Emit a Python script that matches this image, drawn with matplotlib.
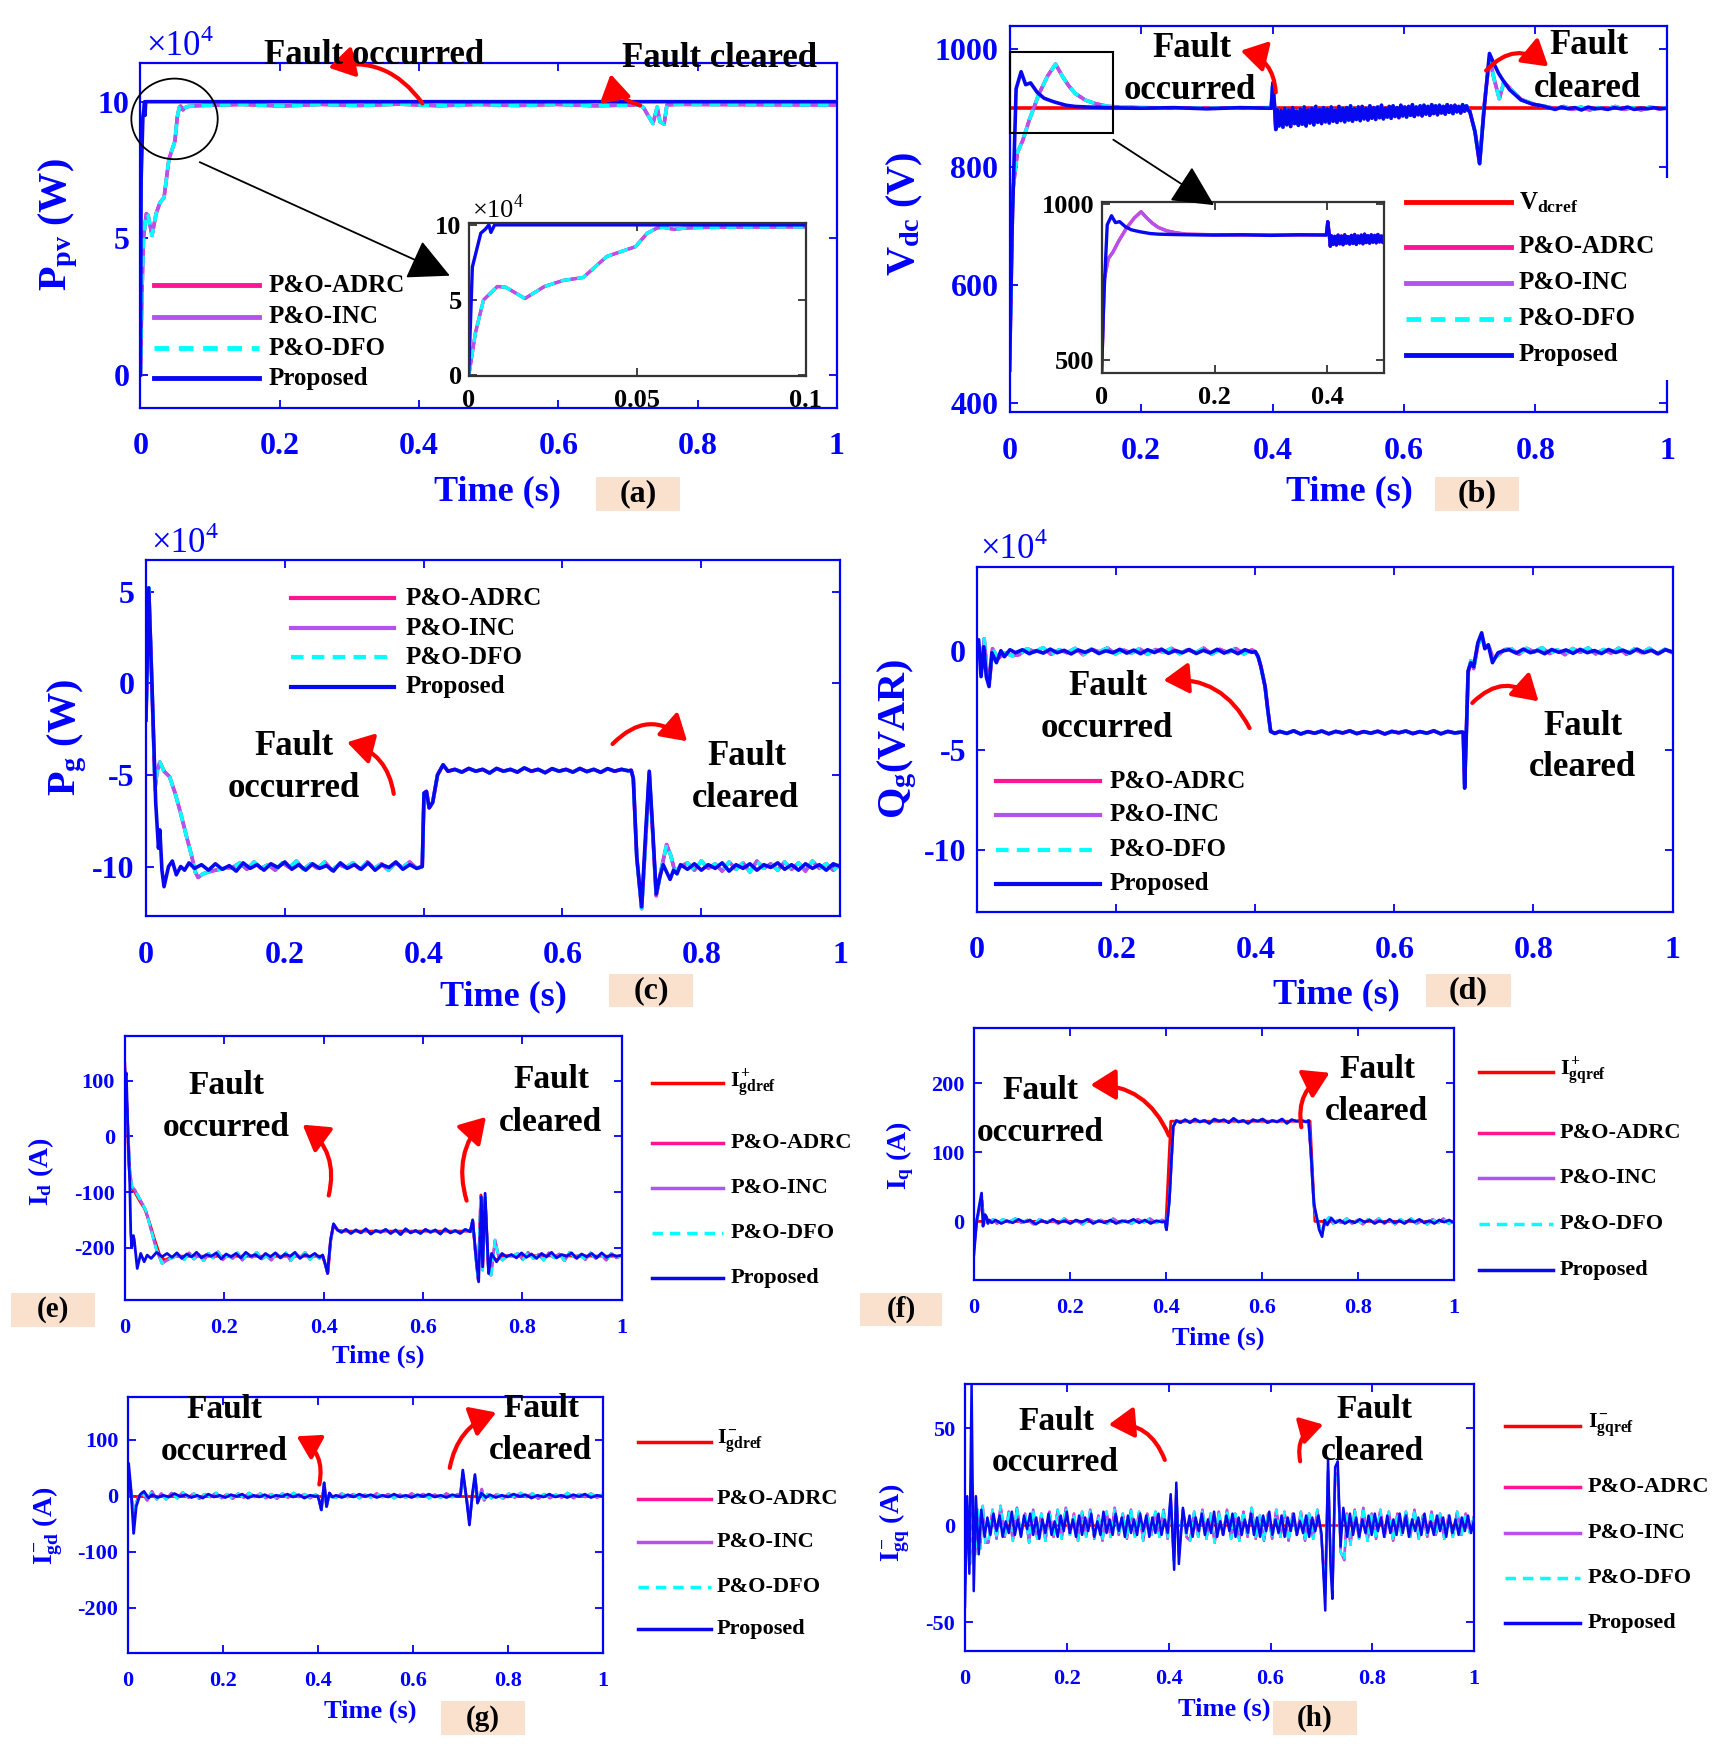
import numpy as np
import matplotlib
matplotlib.use('Agg')
import matplotlib.pyplot as plt
from matplotlib.patches import FancyArrowPatch, Ellipse, Rectangle
from matplotlib.lines import Line2D

plt.rcParams['font.family'] = ['Liberation Serif', 'DejaVu Serif']
plt.rcParams['font.weight'] = 'bold'
plt.rcParams['mathtext.fontset'] = 'custom'
plt.rcParams['mathtext.rm'] = 'Liberation Serif:bold'
plt.rcParams['mathtext.it'] = 'Liberation Serif:bold'
plt.rcParams['mathtext.bf'] = 'Liberation Serif:bold'

# ======================= DATA =======================
time_ticks = [0, 0.2, 0.4, 0.6, 0.8, 1.0]
time_tick_labels = ['0', '0.2', '0.4', '0.6', '0.8', '1']
methods = ['P&O-ADRC', 'P&O-INC', 'P&O-DFO', 'Proposed']

# (a) PV power, x1e4 W
ppv_prop = [(0, 0), (0.0011, 7.2), (0.0036, 9.45), (0.0049, 9.7), (0.006, 10.0),
            (0.0066, 9.5), (0.0077, 10.0), (1.0, 10.0)]
ppv_cmp_start = [(0, 0), (0.0003, 0.33), (0.002, 2.8), (0.0044, 5.0), (0.0085, 5.9), (0.011, 5.85),
                 (0.0167, 5.1), (0.0225, 5.9), (0.028, 6.3), (0.034, 6.5), (0.041, 7.9), (0.0495, 8.55),
                 (0.053, 9.45), (0.056, 9.8), (0.0577, 9.84), (0.061, 9.7), (0.064, 9.78), (0.0675, 9.82),
                 (0.08, 9.85)]
ppv_cmp_ripple = [9.86, 9.9, 9.84, 9.9, 9.86, 9.91, 9.85, 9.9, 9.86, 9.9, 9.85, 9.88]
ppv_cmp_clear = [(0.715, 9.88), (0.722, 9.8), (0.73, 9.45), (0.736, 9.2), (0.742, 9.8), (0.746, 9.27),
                 (0.752, 9.18), (0.756, 9.88), (0.77, 9.9), (1.0, 9.88)]

# (b) DC-link voltage, V
vdc_ref = [(0, 900), (1.0, 900)]
vdc_prop_start = [(0, 455), (0.004, 700), (0.01, 933), (0.0176, 962), (0.0245, 940), (0.032, 943),
                  (0.042, 927), (0.0525, 917), (0.062, 913), (0.07, 910), (0.086, 905), (0.1, 903),
                  (0.12, 902), (0.15, 901), (0.2, 900), (0.25, 901), (0.3, 899), (0.35, 901),
                  (0.398, 900), (0.4005, 943), (0.403, 905), (0.405, 864)]
vdc_band = [898, 870, 896, 868, 900, 872, 897, 869, 901, 874, 895, 871, 899, 873, 902, 870, 897, 875, 900, 872,
            903, 876, 898, 874, 901, 877, 899, 875, 902, 878, 897, 876, 903, 879, 900, 877, 901, 880, 904, 878,
            899, 881, 902, 879, 903, 882, 900, 880, 904, 883, 901, 881, 902, 884, 905, 882, 900, 885, 903, 883,
            904, 886, 901, 884, 905, 887, 902, 885, 903, 888, 906, 886, 902, 889, 904, 887, 905, 890, 903, 888,
            906, 891, 904, 889, 905, 892, 903, 890, 906, 893, 904, 891, 905, 894, 903, 892, 906, 895, 904, 896]
vdc_prop_clear = [(0.7, 895), (0.708, 860), (0.715, 806), (0.722, 900), (0.73, 993), (0.737, 975),
                  (0.744, 959), (0.752, 945), (0.761, 931), (0.778, 914), (0.795, 907), (0.81, 904)]
vdc_prop_tail = [901, 898, 902, 899, 901, 897, 902, 899, 900, 898, 901, 899, 902, 898, 900, 899, 901, 899, 900]
vdc_cmp_start = [(0, 455), (0.005, 760), (0.012, 825), (0.02, 845), (0.03, 880), (0.045, 925),
                 (0.058, 955), (0.07, 975), (0.08, 955), (0.09, 938), (0.1, 925), (0.115, 914),
                 (0.13, 908), (0.15, 903), (0.2, 901), (0.3, 900), (0.398, 901), (0.4005, 943),
                 (0.403, 905), (0.405, 864)]
vdc_cmp_clear = [(0.7, 895), (0.708, 860), (0.715, 806), (0.722, 905), (0.73, 985), (0.737, 950),
                 (0.745, 916), (0.752, 945), (0.76, 935), (0.778, 915), (0.8, 906), (0.82, 902)]
vdc_cmp_tail = [899, 903, 898, 902, 897, 901, 899, 903, 898, 901, 897, 902, 899, 901]

# (c) grid active power, x1e4 W
pg_prop_start = [(0, -2.0), (0.004, 5.2), (0.0087, -0.2), (0.014, -6.5), (0.018, -9.0), (0.02, -8.0),
                 (0.023, -10.2), (0.026, -11.1), (0.0325, -10.0), (0.038, -9.7), (0.0437, -10.45),
                 (0.05, -10.0), (0.0556, -10.2), (0.062, -9.8), (0.07, -10.1)]
pg_prop_n1 = [-9.9, -10.2, -9.85, -10.15, -9.95, -10.25, -9.8, -10.1, -9.9, -10.2, -9.85, -10.05, -9.75,
              -10.15, -9.9, -10.2, -9.85, -10.1, -9.95, -10.25, -9.8, -10.1, -9.9, -10.15, -9.8, -10.2,
              -9.9, -10.05, -9.75, -10.15, -9.9, -10.1]
pg_fault = [(0.398, -10.0), (0.4005, -6.0), (0.404, -5.9), (0.408, -6.8), (0.413, -6.5), (0.42, -5.0),
            (0.428, -4.45), (0.435, -4.8)]
pg_n2 = [-4.7, -4.85, -4.65, -4.8, -4.7, -4.9, -4.65, -4.8, -4.7, -4.85, -4.62, -4.8, -4.7, -4.88, -4.66,
         -4.8, -4.7, -4.85, -4.65, -4.82, -4.7, -4.86, -4.66, -4.8, -4.7, -4.78]
pg_prop_clear = [(0.699, -4.75), (0.702, -5.2), (0.707, -9.5), (0.714, -12.2), (0.72, -8.0), (0.725, -4.8),
                 (0.73, -8.0), (0.735, -11.5), (0.74, -10.6), (0.745, -9.9), (0.75, -10.3), (0.755, -10.7),
                 (0.76, -10.2), (0.765, -10.4), (0.77, -9.9)]
pg_prop_n3 = [-10.15, -9.85, -10.2, -9.9, -10.1, -9.8, -10.25, -9.9, -10.1, -9.85, -10.2, -9.9, -10.05,
              -9.8, -10.15, -9.9, -10.2, -9.85, -10.1, -9.9, -10.2, -9.85, -10.0]
pg_cmp_start = [(0, -2.0), (0.004, 5.2), (0.0087, -0.2), (0.013, -5.8), (0.016, -4.8), (0.02, -4.3),
                (0.026, -4.8), (0.034, -5.1), (0.042, -6.0), (0.05, -7.1), (0.058, -8.3), (0.066, -9.45),
                (0.071, -10.3), (0.075, -10.6), (0.082, -10.4), (0.09, -10.3), (0.1, -10.2), (0.113, -10.1)]
pg_cmp_n1 = [-10.05, -9.8, -10.15, -9.75, -10.1, -9.9, -10.2, -9.8, -10.05, -9.7, -10.15, -9.85, -10.1,
             -9.75, -10.2, -9.9, -10.05, -9.8, -10.15, -9.75, -10.1, -9.85, -10.2, -9.8, -10.05, -9.75, -10.1]
pg_cmp_clear = [(0.699, -4.75), (0.702, -5.2), (0.707, -9.5), (0.714, -12.3), (0.72, -8.5), (0.725, -4.9),
                (0.73, -8.2), (0.735, -11.6), (0.742, -10.2), (0.75, -8.8), (0.756, -9.4), (0.762, -10.3),
                (0.77, -10.0)]
pg_cmp_n3 = [-9.8, -10.2, -9.7, -10.1, -9.85, -10.25, -9.75, -10.15, -9.8, -10.3, -9.7, -10.1, -9.85,
             -10.2, -9.75, -10.15, -9.8, -10.25, -9.7, -10.1, -9.85, -10.2, -9.9]

# (d) grid reactive power, x1e4 VAR
qg_prop_start = [(0, 0.5), (0.002, 0.55), (0.0055, -1.3), (0.0095, 0.2), (0.013, -1.3), (0.017, -1.8),
                 (0.021, -0.1), (0.0276, -0.6), (0.034, 0.0), (0.039, -0.3), (0.047, 0.05)]
qg_prop_n1 = [-0.1, 0.05, -0.15, 0.0, -0.12, 0.08, -0.1, 0.02, -0.16, 0.04, -0.08, 0.06, -0.14, 0.0, -0.1,
              0.07, -0.12, 0.03, -0.15, 0.05, -0.09, 0.08, -0.13, 0.01, -0.1, 0.06, -0.14, 0.02, -0.11,
              0.07, -0.12, 0.03, -0.15, 0.05, -0.08]
qg_fault = [(0.4, -0.05), (0.404, -0.3), (0.408, -0.8), (0.414, -1.8), (0.418, -3.0), (0.422, -4.05),
            (0.428, -4.15)]
qg_n2 = [-4.05, -4.15, -4.02, -4.18, -4.06, -4.14, -4.03, -4.17, -4.05, -4.13, -4.02, -4.16, -4.06, -4.14,
         -4.04, -4.18, -4.05, -4.12, -4.03, -4.16, -4.06, -4.14, -4.02, -4.17, -4.05, -4.13, -4.08]
qg_prop_clear = [(0.699, -4.1), (0.701, -6.9), (0.704, -3.5), (0.706, -1.0), (0.71, -0.6), (0.714, -0.8),
                 (0.72, 0.4), (0.7255, 0.9), (0.73, 0.1), (0.735, 0.3), (0.741, -0.6), (0.749, -0.1),
                 (0.757, 0.0)]
qg_prop_n3 = [0.05, -0.12, 0.08, -0.1, 0.02, -0.15, 0.06, -0.08, 0.04, -0.13, 0.07, -0.1, 0.01, -0.14,
              0.06, -0.09, 0.03, -0.12, 0.08, -0.1, 0.02, -0.15, 0.05, -0.06]
qg_cmp_start = [(0, 0.5), (0.003, 0.2), (0.007, -0.8), (0.01, 0.6), (0.014, -1.0), (0.018, -1.4),
                (0.022, 0.1), (0.03, -0.4), (0.04, -0.1), (0.05, -0.25)]
qg_cmp_n1 = [-0.2, 0.1, -0.05, 0.15, -0.18, 0.05, -0.1, 0.12, -0.2, 0.08, -0.06, 0.14, -0.16, 0.04, -0.12,
             0.1, -0.18, 0.06, -0.08, 0.12, -0.15, 0.05, -0.1, 0.13, -0.17, 0.07, -0.09, 0.11, -0.16, 0.04]
qg_cmp_clear = [(0.699, -4.1), (0.701, -6.7), (0.704, -3.4), (0.706, -1.1), (0.71, -0.5), (0.714, -0.9),
                (0.72, 0.3), (0.726, 0.7), (0.73, 0.2), (0.736, 0.2), (0.742, -0.4), (0.75, -0.2),
                (0.758, 0.05)]
qg_cmp_n3 = [0.1, -0.18, 0.12, -0.06, 0.15, -0.14, 0.05, -0.2, 0.11, -0.08, 0.14, -0.16, 0.06, -0.12,
             0.13, -0.18, 0.08, -0.1, 0.12, -0.15, 0.07, -0.1]

# (e) d-axis current, A
id_ref = [(0, 132), (0.004, 60), (0.008, -50), (0.012, -92), (0.02, -100), (0.03, -116), (0.04, -130),
          (0.05, -155), (0.06, -185), (0.07, -212), (0.08, -222), (0.09, -218), (0.1, -215), (0.398, -215),
          (0.404, -232), (0.409, -244), (0.414, -190), (0.42, -160), (0.428, -168), (0.44, -170),
          (0.698, -170), (0.7, -152), (0.706, -212), (0.711, -255), (0.7165, -105), (0.72, -238),
          (0.725, -110), (0.732, -242), (0.738, -215), (0.748, -222), (0.76, -214), (1.0, -215)]
id_prop_start = [(0, 100), (0.003, 114), (0.0066, 0), (0.01, -84), (0.012, -174), (0.014, -198),
                 (0.017, -178), (0.019, -185), (0.025, -237), (0.032, -210), (0.039, -225), (0.045, -213),
                 (0.053, -219), (0.064, -208), (0.075, -216)]
id_prop_n1 = [-210, -217, -209, -219, -211, -216, -208, -218, -212, -215, -209, -220, -211, -216, -210,
              -218, -208, -215, -212, -219, -210, -216, -209, -218, -211, -215, -208, -219, -212, -216,
              -210, -217]
id_fault = [(0.398, -213), (0.403, -228), (0.408, -246), (0.414, -186), (0.42, -157), (0.428, -168),
            (0.436, -172)]
id_n2 = [-167, -174, -168, -173, -166, -175, -169, -172, -167, -174, -168, -176, -166, -173, -169, -174,
         -167, -172, -168, -175, -166, -173, -169, -174, -167, -171]
id_prop_clear = [(0.7, -150), (0.706, -210), (0.712, -261), (0.7175, -108), (0.72, -234), (0.725, -102),
                 (0.732, -246), (0.738, -210), (0.748, -225), (0.759, -210), (0.768, -216)]
id_prop_n3 = [-212, -218, -209, -217, -211, -219, -210, -216, -208, -218, -212, -215, -209, -219, -211,
              -216, -210, -218, -209, -217, -212, -215, -213]
id_cmp_start = [(0, 120), (0.005, 40), (0.01, -60), (0.014, -90), (0.02, -96), (0.031, -114), (0.042, -132),
                (0.053, -168), (0.064, -204), (0.075, -228), (0.085, -222), (0.092, -219), (0.1, -216)]
id_cmp_n1 = [-214, -221, -209, -220, -212, -223, -210, -218, -207, -221, -213, -219, -209, -222, -211,
             -217, -208, -220, -214, -222, -210, -218, -209, -223, -212, -217, -208, -221, -211, -219]
id_cmp_clear = [(0.7, -150), (0.706, -215), (0.711, -258), (0.716, -108), (0.72, -240), (0.725, -110),
                (0.732, -245), (0.737, -249), (0.745, -186), (0.752, -215), (0.76, -222), (0.77, -214)]
id_cmp_n3 = [-215, -210, -221, -208, -219, -212, -222, -209, -218, -211, -223, -208, -217, -213, -221,
             -209, -219, -211, -222, -210, -218, -214]

# (f) q-axis current, A
iq_ref = [(0, 0), (0.4, 0), (0.41, 145), (0.7, 145), (0.71, 0), (1.0, 0)]
iq_prop_start = [(0, -48), (0.0057, 0), (0.011, 22), (0.016, 41), (0.019, -7), (0.023, 10), (0.026, 7),
                 (0.029, -3), (0.032, 2), (0.0375, -2)]
iq_prop_n1 = [2, -3, 1, -2, 3, -1, 2, -4, 1, -2, 3, -2, 1, -3, 2, -1, 3, -3, 1, -2, 2, -3, 1, -1, 3, -2, 2,
              -3, 1, -1]
iq_fault = [(0.398, 0), (0.401, -12), (0.407, 31), (0.415, 137), (0.4216, 146), (0.43, 143)]
iq_n2 = [147, 143, 148, 144, 146, 142, 148, 145, 147, 143, 149, 144, 146, 142, 147, 145, 148, 143, 146,
         144, 148, 142, 147, 145, 146, 144]
iq_prop_clear = [(0.697, 146), (0.702, 98), (0.708, 26), (0.7136, 7), (0.719, -12), (0.725, -22),
                 (0.73, 2), (0.736, -5), (0.744, 5), (0.753, -2)]
iq_prop_n3 = [2, -3, 1, -2, 3, -1, 2, -3, 1, -2, 3, -2, 1, -3, 2, -1, 3, -2, 1, -3, 2, -1, 2, -2]
iq_cmp_start = [(0, -40), (0.006, 2), (0.012, 18), (0.017, 30), (0.021, -3), (0.026, 6), (0.032, -2),
                (0.04, 3)]
iq_cmp_n1 = [-3, 3, -1, 4, -2, 2, -4, 3, -1, 2, -3, 4, -2, 1, -4, 3, -1, 2, -3, 4, -2, 1, -3, 3, -1, 4,
             -2, 2]
iq_cmp_clear = [(0.697, 146), (0.702, 95), (0.708, 22), (0.714, 4), (0.72, -8), (0.726, -14), (0.732, 0),
                (0.74, 6), (0.748, -3), (0.756, 1)]
iq_cmp_n3 = [-2, 4, -3, 2, -4, 3, -1, 4, -3, 2, -4, 3, -2, 4, -3, 1, -4, 3, -2, 4, -3, 1]

# (g) negative-sequence d current, A
igd_ref = [(0, 0), (1.0, 0)]
igd_prop_start = [(0, 0), (0.001, 58), (0.006, 11), (0.0116, -67), (0.017, -19), (0.025, 2),
                  (0.0335, 8), (0.043, -4)]
igd_prop_n1 = [2, -3, 1, -2, 4, -1, 2, -3, 1, -4, 3, -2, 1, -3, 2, -1, 3, -4, 1, -2, 2, -3, 1, -1, 3, -2,
               2, -4, 1, -1]
igd_fault = [(0.399, 0), (0.402, -7), (0.407, -25), (0.413, 23), (0.418, -19), (0.424, 5), (0.43, -2)]
igd_prop_n2 = [1, -3, 2, -2, 3, -1, 2, -3, 1, -2, 3, -2, 1, -3, 2, -1, 3, -2, 1, -3, 2, -1]
igd_prop_clear = [(0.7, 0), (0.705, 46), (0.713, -7), (0.719, -52), (0.725, 2), (0.7306, 38),
                  (0.736, -13), (0.744, 5), (0.754, -3)]
igd_prop_n3 = [2, -3, 1, -2, 3, -1, 2, -4, 1, -2, 3, -2, 1, -3, 2, -1, 3, -3, 1, -1]
igd_cmp_start = [(0, 0), (0.003, 30), (0.008, -10), (0.012, -30), (0.02, -5), (0.03, 6), (0.04, -8),
                 (0.05, 8), (0.06, -6), (0.07, 4)]
igd_cmp_n1 = [-6, 5, -4, 6, -3, 4, -5, 3, -2, 5, -4, 3, -5, 4, -3, 5, -2, 4, -4, 3, -5, 4, -3, 5, -2, 3,
              -4, 2]
igd_cmp_n2 = [-3, 4, -2, 3, -4, 2, -3, 4, -2, 3, -4, 2, -3, 4, -2, 3, -4, 2, -3, 4, -2, 3]
igd_cmp_clear = [(0.7, 0), (0.705, 40), (0.713, -5), (0.719, -45), (0.725, 0), (0.731, 32), (0.737, -10),
                 (0.745, 12), (0.75, -8), (0.757, 3)]
igd_cmp_n3 = [-4, 3, -5, 4, -3, 5, -2, 4, -5, 3, -4, 2, -3, 5, -4, 3, -2, 4, -3, 2]

# (h) negative-sequence q current, A
igq_ref = [(0, 0), (1.0, 0)]
igq_prop_start = [(0, -42), (0.0043, 15), (0.0086, -25), (0.013, 73), (0.0172, -34), (0.0215, 15),
                  (0.027, -15), (0.032, 8), (0.0387, -6)]
igq_prop_n1 = [4, -5, 6, -3, 5, -6, 2, -4, 7, -5, 3, -6, 5, -2, 6, -5, 4, -7, 3, -4, 6, -5, 2, -6, 5, -3,
               7, -4, 3, -6, 5, -5, 4, -3, 6, -6, 2, -5, 7, -4, 3, -5, 6, -3, 4, -6, 5, -4, 3, -5, 6, -3,
               5, -6, 4, -4, 6, -5, 3, -4]
igq_prop_fault = [(0.404, 16), (0.4108, -23), (0.415, 22), (0.42, -20), (0.428, 9), (0.435, -4)]
igq_prop_n2 = [5, -6, 4, -3, 6, -5, 3, -4, 7, -6, 2, -5, 5, -3, 6, -6, 4, -5, 3, -4, 6, -5, 4, -6, 5, -3,
               7, -5, 3, -4, 5, -6, 4, -3, 6, -5, 2, -4, 5, -6, 4, -3, 5, -4]
igq_prop_clear = [(0.7075, -44), (0.713, 34), (0.718, -22), (0.7215, -38), (0.727, 30), (0.732, 33),
                  (0.7376, -11), (0.743, 9), (0.7505, -6)]
igq_prop_n3 = [6, -5, 4, -6, 3, -4, 5, -5, 6, -3, 4, -6, 5, -4, 3, -5, 6, -4, 5, -6, 3, -3, 4, -5, 6, -4,
               2, -5, 5, -3, 4, -6, 5, -4, 3, -5, 4, -3, 5, -4, 3]
igq_cmp_start = [(0, -30), (0.005, 10), (0.01, -20), (0.015, 20), (0.02, -15), (0.025, 8), (0.03, -12),
                 (0.035, 10), (0.04, -9)]
igq_cmp_n1 = [-9, 8, -7, 10, -6, 7, -8, 9, -5, 6, -9, 8, -7, 6, -8, 7, -6, 8, -7, 9, -5, 6, -8, 7, -6, 8,
              -7, 5, -8, 7, -6, 9, -5, 6, -7, 8, -6, 7, -8, 6, -5, 7, -6, 8, -7]
igq_cmp_fault = [(0.404, 14), (0.41, -18), (0.415, 18), (0.42, -15), (0.428, 8), (0.435, -6)]
igq_cmp_n2 = [-8, 7, -6, 8, -7, 6, -9, 7, -5, 8, -7, 6, -8, 7, -6, 9, -7, 5, -8, 6, -7, 8, -6, 7, -8, 6,
              -5, 7, -8, 6, -7, 8, -6]
igq_cmp_clear = [(0.707, -35), (0.713, 28), (0.718, -18), (0.722, -30), (0.727, 25), (0.732, 27),
                 (0.738, -14), (0.745, -18), (0.75, 6)]
igq_cmp_n3 = [-10, 8, -7, 9, -8, 6, -7, 8, -6, 7, -8, 6, -5, 7, -6, 8, -7, 5, -6, 7, -5, 6, -7, 5, -6, 7,
              -5, 6, -4, 5]


# ======================= helpers =======================
def pts(p):
    a = np.array(p, dtype=float)
    return a[:, 0], a[:, 1]


def seg(t0, t1, vals):
    return np.linspace(t0, t1, len(vals)), np.array(vals, dtype=float)


def cat(*parts):
    return np.concatenate([p[0] for p in parts]), np.concatenate([p[1] for p in parts])


BLUE = '#0000FF'
PROP = '#0808F0'
PINK = '#FF1493'
PURPLE = '#B452EE'
CYAN = '#00FFFF'
RED = '#FF0000'
PEACH = '#FAE1CD'

W, H = 1540.0, 1568.0
fig = plt.figure(figsize=(17.16, 17.47), dpi=100)


def fx(x):
    return x / W


def fy(y):
    return 1 - y / H


def add_ax(l, r, t, b):
    return fig.add_axes([fx(l), fy(b), (r - l) / W, (b - t) / H])


def style(ax, ylim, yticks, fs, xpad, ypad, xlim=(0, 1), xt=time_ticks, xtl=time_tick_labels,
          color=BLUE, spine_color=BLUE):
    ax.set_xlim(*xlim)
    ax.set_ylim(*ylim)
    ax.set_xticks(xt)
    ax.set_xticklabels(xtl)
    ax.set_yticks(yticks)
    ax.set_yticklabels([str(v) for v in yticks])
    ax.tick_params(direction='in', top=True, right=True, color=spine_color, labelcolor=color,
                   labelsize=fs, length=6, width=1.3)
    ax.tick_params(axis='x', pad=xpad)
    ax.tick_params(axis='y', pad=ypad)
    for s in ax.spines.values():
        s.set_color(spine_color)
        s.set_linewidth(1.6)
    for lab in ax.get_xticklabels() + ax.get_yticklabels():
        lab.set_fontweight('bold')


def draw(ax, cmp, prop, lw, ref=None, show=('ADRC', 'INC', 'DFO')):
    if ref is not None:
        ax.plot(*ref, color=RED, lw=lw)
    if 'ADRC' in show:
        ax.plot(*cmp, color=PINK, lw=lw)
    if 'INC' in show:
        ax.plot(*cmp, color=PURPLE, lw=lw * 0.9)
    if 'DFO' in show:
        ax.plot(*cmp, color=CYAN, lw=lw, ls=(0, (3, 2)))
    ax.plot(*prop, color=PROP, lw=lw)


def legend(entries, x0, x1, xt, ys, fs, lw):
    for (lab, col, ls), y in zip(entries, ys):
        fig.add_artist(Line2D([fx(x0), fx(x1)], [fy(y), fy(y)], transform=fig.transFigure,
                              color=col, ls=ls, lw=lw, zorder=4))
        fig.text(fx(xt), fy(y), lab, ha='left', va='center', fontsize=fs, fontweight='bold',
                 color='black', zorder=5)


def red_arrow(p0, p1, rad, ms=17):
    fig.add_artist(FancyArrowPatch((fx(p0[0]), fy(p0[1])), (fx(p1[0]), fy(p1[1])),
                                   transform=fig.transFigure, connectionstyle=f'arc3,rad={rad}',
                                   arrowstyle='-|>,head_length=0.9,head_width=0.55', mutation_scale=ms,
                                   color=RED, lw=3, zorder=4))


def black_arrow(p0, p1):
    fig.add_artist(FancyArrowPatch((fx(p0[0]), fy(p0[1])), (fx(p1[0]), fy(p1[1])),
                                   transform=fig.transFigure,
                                   arrowstyle='-|>,head_length=1.3,head_width=0.65', mutation_scale=20,
                                   color='black', lw=1.3, zorder=4))


def ftext(x, y, s, fs, color='black', **kw):
    fig.text(fx(x), fy(y), s, fontsize=fs, color=color, fontweight='bold', zorder=5, **kw)


def times10(x, y, fs, color):
    fig.text(fx(x), fy(y), '×10', fontsize=fs, fontweight='normal', color=color, va='baseline')
    fig.text(fx(x + fs * 1.95), fy(y - fs * 0.5), '4', fontsize=fs * 0.68, fontweight='normal',
             color=color, va='baseline')


def label_box(l, r, t, b, s, fs):
    fig.add_artist(Rectangle((fx(l), fy(b)), (r - l) / W, (b - t) / H, transform=fig.transFigure,
                             facecolor=PEACH, edgecolor='none', zorder=1))
    ftext((l + r) / 2, (t + b) / 2, s, fs, ha='center', va='center')


cmp_entries = [('P&O-ADRC', PINK, '-'), ('P&O-INC', PURPLE, '-'), ('P&O-DFO', CYAN, (0, (3, 2))),
               ('Proposed', PROP, '-')]

# ======================= (a) =======================
ppv_p = pts(ppv_prop)
ppv_c = cat(pts(ppv_cmp_start), seg(0.09, 0.71, ppv_cmp_ripple), pts(ppv_cmp_clear))
ax = add_ax(126, 751, 56.2, 366.4)
draw(ax, ppv_c, ppv_p, 2.6)
style(ax, (-1.22, 11.43), [0, 5, 10], 23, 17, 8)
ax.add_patch(Ellipse((0.049, 9.37), 0.124, 2.95, fill=False, ec='black', lw=1.3, clip_on=False, zorder=5))
axi = add_ax(420.6, 723, 200.5, 337.6)
draw(axi, ppv_c, ppv_p, 2.4)
style(axi, (-0.07, 10.1), [0, 5, 10], 19, 9, 5, xlim=(0, 0.1), xt=[0, 0.05, 0.1],
      xtl=['0', '0.05', '0.1'], color='black', spine_color='#333333')
times10(424, 195, 19, 'black')
black_arrow((177, 144.5), (406, 248.5))
times10(131, 49.4, 25, BLUE)
ftext(52, 202, r'$P_{pv}$ (W)', 29, BLUE, rotation=90, ha='center', va='center')
ftext(446.5, 441, 'Time (s)', 26, BLUE, ha='center', va='center')
label_box(535, 610, 428.4, 458.3, '(a)', 23)
legend(cmp_entries, 138.5, 232.7, 241, [255.8, 284.2, 312.6, 339.5], 18, 3.5)
ftext(335.5, 57.7, 'Fault occurred', 25, ha='center', va='baseline')
ftext(646, 59.8, 'Fault cleared', 25, ha='center', va='baseline')
red_arrow((380.6, 95), (292.4, 61.3), 0.35)
red_arrow((577, 95), (547.6, 64), -0.35)

# ======================= (b) =======================
vdc_p = cat(pts(vdc_prop_start), seg(0.407, 0.698, vdc_band), pts(vdc_prop_clear),
            seg(0.82, 1.0, vdc_prop_tail))
vdc_c = cat(pts(vdc_cmp_start), seg(0.407, 0.698, vdc_band), pts(vdc_cmp_clear),
            seg(0.83, 1.0, vdc_cmp_tail))
vdc_r = pts(vdc_ref)
ax = add_ax(906, 1496, 23.3, 369.5)
draw(ax, vdc_c, vdc_p, 2.6, ref=vdc_r)
style(ax, (384.7, 1039.7), [400, 600, 800, 1000], 23, 18, 8)
ax.add_patch(Rectangle((0, 858), 0.158, 138, fill=False, ec='black', lw=1.5, clip_on=False, zorder=5))
fig.add_artist(Rectangle((fx(1255), fy(341)), (1503 - 1255) / W, (341 - 160) / H,
                         transform=fig.transFigure, facecolor='white', edgecolor='none', zorder=2))
axi = add_ax(988.6, 1242, 181.6, 335)
draw(axi, vdc_c, vdc_p, 2.4, show=('ADRC', 'INC'))
style(axi, (457, 1005), [500, 1000], 19, 9, 5, xlim=(0, 0.5), xt=[0, 0.2, 0.4],
      xtl=['0', '0.2', '0.4'], color='black', spine_color='#333333')
black_arrow((997, 124), (1091.6, 185.5))
ftext(811.7, 192, r'$V_{dc}$ (V)', 29, BLUE, rotation=90, ha='center', va='center')
ftext(1211.4, 441, 'Time (s)', 26, BLUE, ha='center', va='center')
label_box(1288, 1363, 428.4, 458.3, '(b)', 23)
legend([(r'$V_{dcref}$', RED, '-')] + cmp_entries, 1262, 1355.6, 1363,
       [181.6, 221.4, 253.7, 286.3, 318.6], 18, 3.5)
ftext(1069.5, 51.5, 'Fault', 25, ha='center', va='baseline')
ftext(1068, 89, 'occurred', 25, ha='center', va='baseline')
ftext(1425.6, 48.8, 'Fault', 25, ha='center', va='baseline')
ftext(1425, 86.8, 'cleared', 25, ha='center', va='baseline')
red_arrow((1145, 85.3), (1111, 45), 0.4)
red_arrow((1332, 65.2), (1391.4, 61.3), -0.5)

# ======================= (c) =======================
pg_p = cat(pts(pg_prop_start), seg(0.08, 0.39, pg_prop_n1), pts(pg_fault), seg(0.445, 0.695, pg_n2),
           pts(pg_prop_clear), seg(0.78, 1.0, pg_prop_n3))
pg_c = cat(pts(pg_cmp_start), seg(0.125, 0.39, pg_cmp_n1), pts(pg_fault), seg(0.445, 0.695, pg_n2),
           pts(pg_cmp_clear), seg(0.78, 1.0, pg_cmp_n3))
ax = add_ax(131, 754, 503, 822)
draw(ax, pg_c, pg_p, 2.6)
style(ax, (-12.69, 6.7), [-10, -5, 0, 5], 23, 18, 8)
times10(136, 495, 25, BLUE)
ftext(60, 661.7, r'$P_{g}$ (W)', 29, BLUE, rotation=90, ha='center', va='center')
ftext(451.5, 894.5, 'Time (s)', 26, BLUE, ha='center', va='center')
label_box(546.7, 622, 874, 904, '(c)', 23)
legend(cmp_entries, 261, 353.8, 363.7, [537, 564, 590, 616.3], 18, 3.0)
ftext(264, 677.6, 'Fault', 25, ha='center', va='baseline')
ftext(263.5, 715, 'occurred', 25, ha='center', va='baseline')
ftext(670, 686.6, 'Fault', 25, ha='center', va='baseline')
ftext(669, 724, 'cleared', 25, ha='center', va='baseline')
red_arrow((353.7, 715), (309, 665.6), 0.35)
red_arrow((548, 669.6), (618.5, 667), -0.5)

# ======================= (d) =======================
qg_p = cat(pts(qg_prop_start), seg(0.055, 0.395, qg_prop_n1), pts(qg_fault), seg(0.435, 0.697, qg_n2),
           pts(qg_prop_clear), seg(0.765, 1.0, qg_prop_n3))
qg_c = cat(pts(qg_cmp_start), seg(0.06, 0.395, qg_cmp_n1), pts(qg_fault), seg(0.435, 0.697, qg_n2),
           pts(qg_cmp_clear), seg(0.768, 1.0, qg_cmp_n3))
ax = add_ax(877, 1501, 508.6, 819)
draw(ax, qg_c, qg_p, 2.6)
style(ax, (-13.14, 4.22), [-10, -5, 0], 23, 17, 8)
times10(880, 501, 25, BLUE)
ftext(805, 662.6, r'$Q_{g}$(VAR)', 29, BLUE, rotation=90, ha='center', va='center')
ftext(1199, 893, 'Time (s)', 26, BLUE, ha='center', va='center')
label_box(1280, 1355.6, 874, 904, '(d)', 23)
legend(cmp_entries, 893.5, 987, 995.9, [701, 731.4, 762.8, 793.3], 18, 3.0)
ftext(994.7, 623.7, 'Fault', 25, ha='center', va='baseline')
ftext(993.6, 661.7, 'occurred', 25, ha='center', va='baseline')
ftext(1420.7, 659.6, 'Fault', 25, ha='center', va='baseline')
ftext(1420, 696.4, 'cleared', 25, ha='center', va='baseline')
red_arrow((1122.5, 655.7), (1041.7, 610.8), 0.35)
red_arrow((1319.5, 632.7), (1382.6, 631.2), -0.5)

# ======================= (e) =======================
id_p = cat(pts(id_prop_start), seg(0.085, 0.392, id_prop_n1), pts(id_fault), seg(0.445, 0.695, id_n2),
           pts(id_prop_clear), seg(0.778, 1.0, id_prop_n3))
id_c = cat(pts(id_cmp_start), seg(0.11, 0.392, id_cmp_n1), pts(id_fault), seg(0.445, 0.695, id_n2),
           pts(id_cmp_clear), seg(0.78, 1.0, id_cmp_n3))
ax = add_ax(112, 558, 930, 1167)
draw(ax, id_c, id_p, 2.0, ref=pts(id_ref))
style(ax, (-294, 180), [-200, -100, 0, 100], 16, 13, 7)
ftext(36.6, 1051.8, r'$I_{d}$ (A)', 20, BLUE, rotation=90, ha='center', va='center')
ftext(339.3, 1217.6, 'Time (s)', 19, BLUE, ha='center', va='center')
label_box(10, 85, 1160.7, 1190.6, '(e)', 21)
legend([(r'$I^{+}_{gdref}$', RED, '-')] + cmp_entries, 584.8, 649, 655.5,
       [972.2, 1026, 1066.5, 1106.9, 1146.7], 16, 2.5)
ftext(202.8, 981.8, 'Fault', 24, ha='center', va='baseline')
ftext(202.8, 1019.6, 'occurred', 24, ha='center', va='baseline')
ftext(495.2, 976.7, 'Fault', 24, ha='center', va='baseline')
ftext(494.2, 1014.7, 'cleared', 24, ha='center', va='baseline')
red_arrow((294.4, 1075.4), (269.6, 1008), 0.35)
red_arrow((419.5, 1080), (437.8, 1000.7), -0.3)

# ======================= (f) =======================
iq_p = cat(pts(iq_prop_start), seg(0.045, 0.392, iq_prop_n1), pts(iq_fault), seg(0.44, 0.692, iq_n2),
           pts(iq_prop_clear), seg(0.762, 1.0, iq_prop_n3))
iq_c = cat(pts(iq_cmp_start), seg(0.048, 0.392, iq_cmp_n1), pts(iq_fault), seg(0.44, 0.692, iq_n2),
           pts(iq_cmp_clear), seg(0.765, 1.0, iq_cmp_n3))
ax = add_ax(874, 1305, 922.6, 1149)
draw(ax, iq_c, iq_p, 2.0, ref=pts(iq_ref))
style(ax, (-85, 280), [0, 100, 200], 16, 13, 7)
ftext(807.5, 1037.2, r'$I_{q}$ (A)', 20, BLUE, rotation=90, ha='center', va='center')
ftext(1093.7, 1201, 'Time (s)', 19, BLUE, ha='center', va='center')
label_box(772, 845, 1160.7, 1190, '(f)', 21)
legend([(r'$I^{+}_{gqref}$', RED, '-')] + cmp_entries, 1327, 1393.4, 1400,
       [961.8, 1016.5, 1057.5, 1098.5, 1139.8], 16, 2.5)
ftext(933.9, 986.6, 'Fault', 24, ha='center', va='baseline')
ftext(934, 1023.7, 'occurred', 24, ha='center', va='baseline')
ftext(1236.6, 967.8, 'Fault', 24, ha='center', va='baseline')
ftext(1235.5, 1005.2, 'cleared', 24, ha='center', va='baseline')
red_arrow((1050, 1021.6), (976.2, 973.8), 0.35)
red_arrow((1168.3, 1014.2), (1195.5, 961.8), -0.4)

# ======================= (g) =======================
igd_p = cat(pts(igd_prop_start), seg(0.05, 0.395, igd_prop_n1), pts(igd_fault),
            seg(0.438, 0.695, igd_prop_n2), pts(igd_prop_clear), seg(0.762, 1.0, igd_prop_n3))
igd_c = cat(pts(igd_cmp_start), seg(0.08, 0.395, igd_cmp_n1), pts(igd_fault),
            seg(0.438, 0.695, igd_cmp_n2), pts(igd_cmp_clear), seg(0.765, 1.0, igd_cmp_n3))
ax = add_ax(115, 541, 1254, 1484)
draw(ax, igd_c, igd_p, 2.0, ref=pts(igd_ref))
style(ax, (-281, 176), [-200, -100, 0, 100], 16, 13, 7)
ftext(43.3, 1369.4, r'$I^{-}_{gd}$ (A)', 20, BLUE, rotation=90, ha='center', va='center')
ftext(332, 1536, 'Time (s)', 19, BLUE, ha='center', va='center')
label_box(396, 471, 1527, 1557, '(g)', 21)
legend([(r'$I^{-}_{gdref}$', RED, '-')] + cmp_entries, 573, 638.2, 643.1,
       [1294, 1345, 1384, 1424, 1462], 16, 2.5)
ftext(201, 1272.9, 'Fault', 24, ha='center', va='baseline')
ftext(201, 1310.3, 'occurred', 24, ha='center', va='baseline')
ftext(486, 1272, 'Fault', 24, ha='center', va='baseline')
ftext(485.3, 1309.4, 'cleared', 24, ha='center', va='baseline')
red_arrow((286, 1334.8), (264, 1288), 0.4, ms=15)
red_arrow((403.2, 1319.9), (447.7, 1266.9), -0.3)

# ======================= (h) =======================
igq_p = cat(pts(igq_prop_start), seg(0.044, 0.398, igq_prop_n1), pts(igq_prop_fault),
            seg(0.441, 0.7, igq_prop_n2), pts(igq_prop_clear), seg(0.756, 1.0, igq_prop_n3))
igq_c = cat(pts(igq_cmp_start), seg(0.046, 0.398, igq_cmp_n1), pts(igq_cmp_fault),
            seg(0.442, 0.7, igq_cmp_n2), pts(igq_cmp_clear), seg(0.757, 1.0, igq_cmp_n3))
ax = add_ax(866, 1323, 1242, 1482)
draw(ax, igq_c, igq_p, 1.8, ref=pts(igq_ref))
style(ax, (-65, 73), [-50, 0, 50], 16, 13, 7)
ftext(803.4, 1366.4, r'$I^{-}_{gq}$ (A)', 20, BLUE, rotation=90, ha='center', va='center')
ftext(1098.6, 1534.6, 'Time (s)', 19, BLUE, ha='center', va='center')
label_box(1142, 1218, 1527, 1557, '(h)', 21)
legend([(r'$I^{-}_{gqref}$', RED, '-')] + cmp_entries, 1351, 1418, 1425,
       [1280, 1335, 1376, 1416, 1457], 16, 2.5)
ftext(947.9, 1283.4, 'Fault', 24, ha='center', va='baseline')
ftext(946.9, 1319.9, 'occurred', 24, ha='center', va='baseline')
ftext(1233.1, 1272.9, 'Fault', 24, ha='center', va='baseline')
ftext(1231.6, 1310.3, 'cleared', 24, ha='center', va='baseline')
red_arrow((1046.2, 1312.7), (992.5, 1278.9), 0.4)
red_arrow((1167.3, 1314), (1190, 1278), -0.5, ms=15)

fig.savefig('out.png', dpi=100, facecolor='white')
